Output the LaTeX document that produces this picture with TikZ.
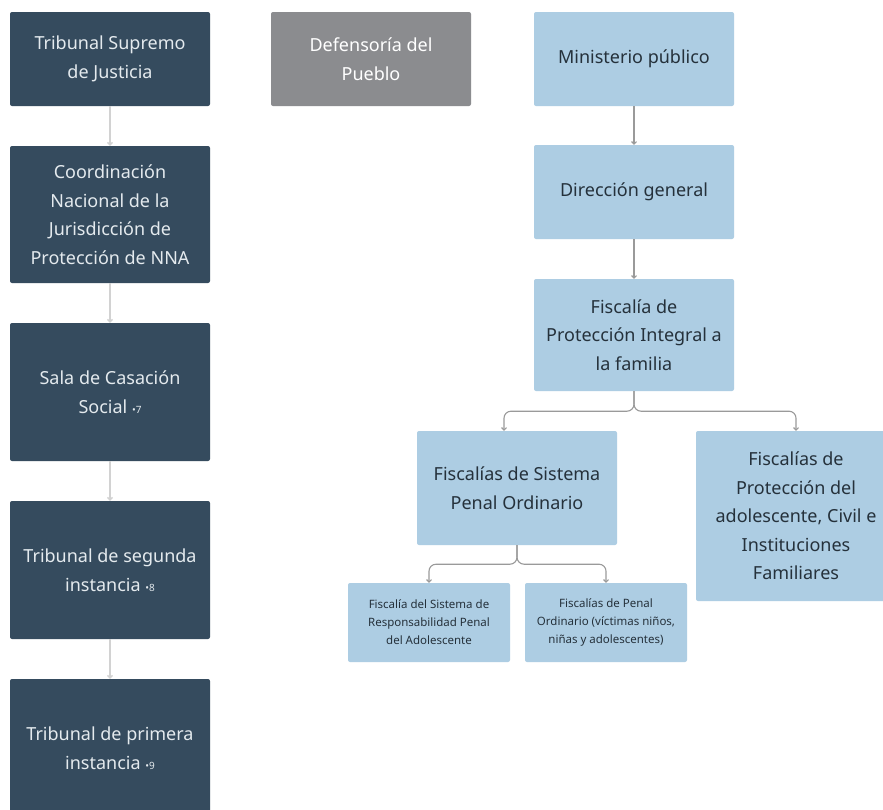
\documentclass[tikz,border=0pt]{standalone}
\usepackage{fontspec}
\setmainfont{Noto Sans}
\usetikzlibrary{arrows.meta}
\definecolor{darkslate}{HTML}{354B5E}
\definecolor{darktext}{HTML}{E4EAEE}
\definecolor{midgrey}{HTML}{8B8C8F}
\definecolor{paleblue}{HTML}{ADCDE3}
\definecolor{bluetext}{HTML}{25313B}
\definecolor{connlight}{HTML}{D2D2D2}
\definecolor{conndark}{HTML}{9A9A9A}
\newcommand{\fnmark}[1]{ {\fontsize{10}{10}\selectfont•#1}}
\begin{document}
\begin{tikzpicture}[x=1pt, y=-1pt,
    every node/.style={font=\fontsize{18}{28.5}\selectfont, align=center, inner sep=0pt, rounded corners=2pt},
    darkbox/.style={fill=darkslate, text=darktext, minimum width=200pt},
    greybox/.style={fill=midgrey, text=white, minimum width=200pt},
    bluebox/.style={fill=paleblue, text=bluetext, minimum width=200pt},
    smallbox/.style={fill=paleblue, text=bluetext, minimum width=162pt, minimum height=79pt,
        font=\fontsize{11.5}{18}\selectfont},
    conn/.style={-{Straight Barb[length=2.5pt,width=5pt]}, line width=1.1pt, conndark},
    connleft/.style={conn, line width=1.4pt, connlight}]
    \clip (0,0) rectangle (883,809);
    \fill[white] (0,0) rectangle (883,809);
    % columna judicial
    \node[darkbox, minimum height=94pt] (tsj) at (110,59) {Tribunal Supremo\\de Justicia};
    \node[darkbox, minimum height=137pt] (cn) at (110,214.5) {Coordinación\\Nacional de la\\Jurisdicción de\\Protección de NNA};
    \node[darkbox, minimum height=138pt] (scs) at (110,392) {Sala de Casación\\Social\fnmark{7}};
    \node[darkbox, minimum height=138pt] (tsi) at (110,570) {Tribunal de segunda\\instancia\fnmark{8}};
    \node[darkbox, minimum height=138pt] (tpi) at (110,748) {Tribunal de primera\\instancia\fnmark{9}};
    \node[greybox, minimum height=94pt] (dp) at (371,59) {Defensoría del\\Pueblo};
    % ministerio publico
    \node[bluebox, minimum height=94pt] (mp) at (634,59) {Ministerio público};
    \node[bluebox, minimum height=94pt] (dg) at (634,192) {Dirección general};
    \node[bluebox, minimum height=112pt] (fpi) at (634,335) {Fiscalía de\\Protección Integral a\\la familia};
    \node[bluebox, minimum height=114pt] (fspo) at (517,488) {Fiscalías de Sistema\\Penal Ordinario};
    \node[bluebox, minimum height=170pt] (fpa) at (796,516) {Fiscalías de\\Protección del\\adolescente, Civil e\\Instituciones\\Familiares};
    \node[smallbox] (fsrpa) at (429,622.5) {Fiscalía del Sistema de\\Responsabilidad Penal\\del Adolescente};
    \node[smallbox] (fpo) at (606,622.5) {Fiscalías de Penal\\Ordinario (víctimas niños,\\niñas y adolescentes)};
    \draw[connleft] (tsj) -- (cn);
    \draw[connleft] (cn) -- (scs);
    \draw[connleft] (scs) -- (tsi);
    \draw[connleft] (tsi) -- (tpi);
    \draw[conn] (mp) -- (dg);
    \draw[conn] (dg) -- (fpi);
    \draw[conn, rounded corners=7pt] (fpi.south) -- ++(0,20) -| ([xshift=-13pt]fspo.north);
    \draw[conn, rounded corners=7pt] (fpi.south) -- ++(0,20) -| (fpa.north);
    \draw[conn, rounded corners=7pt] (fspo.south) -- ++(0,19) -| (fsrpa.north);
    \draw[conn, rounded corners=7pt] (fspo.south) -- ++(0,19) -| (fpo.north);
\end{tikzpicture}
\end{document}
